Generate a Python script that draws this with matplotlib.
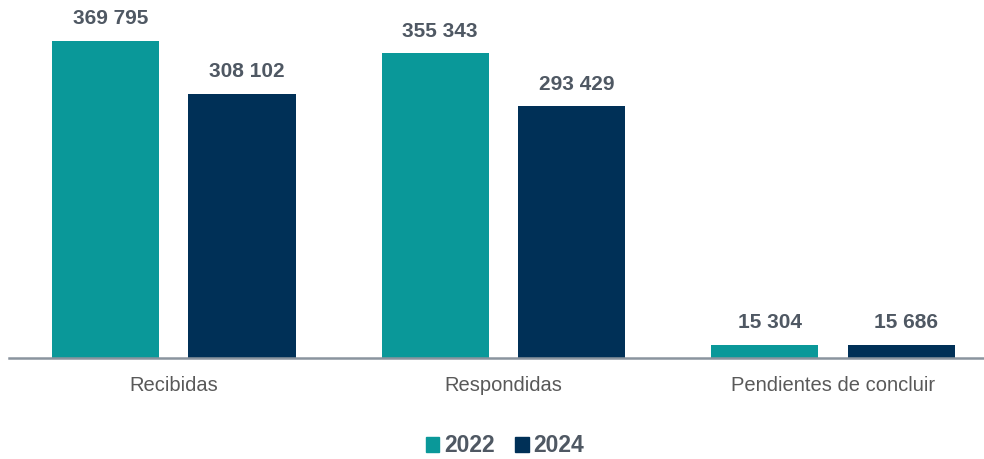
import numpy as np
import matplotlib.pyplot as plt
from matplotlib.patches import Patch

plt.rcParams['font.family'] = ['Liberation Sans', 'DejaVu Sans']

# Data
categories = ['Recibidas', 'Respondidas', 'Pendientes de concluir']
years = ['2022', '2024']
values_2022 = [369795, 355343, 15304]
values_2024 = [308102, 293429, 15686]

colors = ['#0a9899', '#003057']
text_color = '#4f5863'

def fmt(v):
    return f'{v:,}'.replace(',', ' ')

fig = plt.figure(figsize=(9.84, 4.59), dpi=100)
ax = fig.add_axes([9 / 984, 101 / 459, 975 / 984, 343 / 459])

x = np.arange(len(categories))
width = 0.325
offset = 0.207

bars1 = ax.bar(x - offset, values_2022, width, color=colors[0])
bars2 = ax.bar(x + offset, values_2024, width, color=colors[1])

for bars, vals in [(bars1, values_2022), (bars2, values_2024)]:
    for b, v in zip(bars, vals):
        ax.annotate(fmt(v), (b.get_x() + b.get_width() / 2, v),
                    xytext=(3.5, 9), textcoords='offset points',
                    ha='center', va='bottom', fontsize=15, fontweight='bold',
                    color=text_color, annotation_clip=False)

ax.set_xlim(-0.5, 2.458)
ax.set_ylim(0, 400000)
ax.set_xticks(x)
ax.set_xticklabels(categories, fontsize=14.5, color='#595959')
ax.tick_params(axis='x', length=0, pad=13)
ax.set_yticks([])
for s in ['top', 'right', 'left']:
    ax.spines[s].set_visible(False)
ax.spines['bottom'].set_color('#8a949e')
ax.spines['bottom'].set_linewidth(1.8)

handles = [Patch(color=c) for c in colors]
leg = fig.legend(handles, years, loc='center', bbox_to_anchor=(505 / 984, 1 - 446 / 459),
                 ncol=2, frameon=False, handlelength=0.6, handleheight=0.6,
                 handletextpad=0.2, columnspacing=0.9,
                 prop={'size': 16.5, 'weight': 'bold'})
for t in leg.get_texts():
    t.set_color(text_color)

plt.savefig('out.png', dpi=100)
